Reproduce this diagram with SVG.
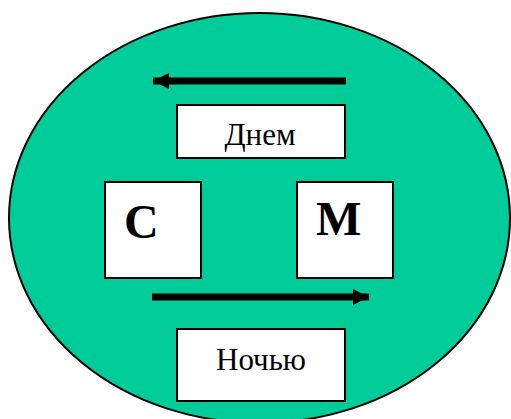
<svg xmlns="http://www.w3.org/2000/svg" width="511" height="419" viewBox="0 0 511 419">
<style>
.box{fill:#ffffff;stroke:#000000;stroke-width:2}
.lbl{font-family:"Liberation Serif","Times New Roman",serif;fill:#000000}
.big{font-weight:bold;font-size:48px}
.mid{font-size:31px}
.conn{stroke:#000000;stroke-width:7;fill:none}
</style>
<defs>
<marker id="ah" viewBox="0 0 16 16" refX="16" refY="8" markerWidth="16" markerHeight="16" markerUnits="userSpaceOnUse" orient="auto">
<path d="M0,0 L16,8 L0,16 Z" fill="#000000"/>
</marker>
</defs>
<g id="ellipse">
<ellipse cx="259.5" cy="218" rx="250.5" ry="205" fill="#00CC99" stroke="#000000" stroke-width="2"/>
</g>
<g id="connectors">
<line class="conn" x1="346" y1="81" x2="153" y2="81" marker-end="url(#ah)"/>
<line class="conn" x1="152" y1="297" x2="369" y2="297" marker-end="url(#ah)"/>
</g>
<g id="node-day">
<rect class="box" x="177" y="105" width="168" height="53"/>
<text class="lbl mid" x="260" y="145" text-anchor="middle">Днем</text>
</g>
<g id="node-c">
<rect class="box" x="105" y="182" width="96" height="96"/>
<text class="lbl big" x="124" y="238">С</text>
</g>
<g id="node-m">
<rect class="box" x="297" y="182" width="96" height="96"/>
<text class="lbl big" x="316" y="235">М</text>
</g>
<g id="node-night">
<rect class="box" x="177" y="329" width="168" height="72"/>
<text class="lbl mid" x="261" y="370" text-anchor="middle">Ночью</text>
</g>
</svg>
